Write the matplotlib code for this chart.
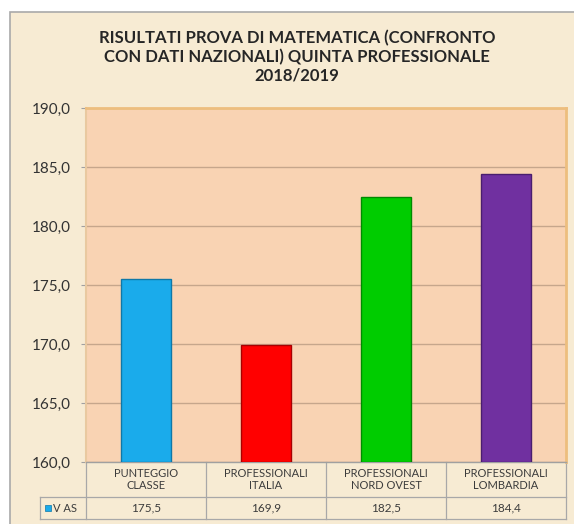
import matplotlib
matplotlib.use("Agg")
import matplotlib.pyplot as plt
import matplotlib.transforms as mtransforms
from matplotlib.patches import Rectangle
from matplotlib.lines import Line2D

# data
categories = ["PUNTEGGIO\nCLASSE", "PROFESSIONALI\nITALIA",
              "PROFESSIONALI\nNORD OVEST", "PROFESSIONALI\nLOMBARDIA"]
values = [175.5, 169.9, 182.5, 184.4]
value_labels = ["175,5", "169,9", "182,5", "184,4"]
series_name = "V AS"
yticks = [160, 165, 170, 175, 180, 185, 190]
ytick_labels = ["160,0", "165,0", "170,0", "175,0", "180,0", "185,0", "190,0"]

bar_colors = ["#1AABEB", "#FF0000", "#00CC00", "#7030A0"]
edge_colors = ["#0F78A8", "#A80000", "#008A00", "#4A1E6E"]

plt.rcParams['font.family'] = ['Lato', 'DejaVu Sans']

W, H = 574, 524
fig = plt.figure(figsize=(W / 100, H / 100), dpi=100, facecolor="white")

# parchment chart area with grey border
fig.patches.append(Rectangle((10 / W, -0.01), 1.0, 1 - 12 / H + 0.01,
                             transform=fig.transFigure, facecolor="#F7EBD3",
                             edgecolor="#A9A9A9", linewidth=1.2, zorder=-10))

# plot area: left 86, right 566, top 108, bottom 462 (pixels)
ax = fig.add_axes([86 / W, 1 - 462 / H, 480 / W, 354 / H])
ax.set_facecolor("#F9D3B3")

x = list(range(len(values)))
ax.bar(x, [v - 160 for v in values], bottom=160, width=0.41,
       color=bar_colors, edgecolor=edge_colors, linewidth=1.0, zorder=3)

ax.set_xlim(-0.5, 3.5)
ax.set_ylim(160, 190)
ax.set_yticks(yticks)
ax.set_yticklabels(ytick_labels, fontsize=11, color="#333333")
ax.set_xticks([])
ax.tick_params(axis="y", length=3.6, color="#A0A0A0", pad=7)
ax.yaxis.grid(True, color="#C6A68C", linewidth=1.0, zorder=1)
ax.set_axisbelow(True)

for s in ["top", "right"]:
    ax.spines[s].set_color("#EDBE7E")
    ax.spines[s].set_linewidth(2.0)
ax.spines["left"].set_color("#E9C9A0")
ax.spines["left"].set_linewidth(1.5)
ax.spines["bottom"].set_color("#A0A0A0")
ax.spines["bottom"].set_linewidth(1.0)

# title
fig.text(297 / W, 1 - 57 / H,
         "RISULTATI PROVA DI MATEMATICA (CONFRONTO\nCON DATI NAZIONALI) QUINTA PROFESSIONALE\n2018/2019",
         ha="center", va="center", fontsize=12, fontweight="bold",
         color="#262626", linespacing=1.2)

# data table under the plot
trans = mtransforms.blended_transform_factory(ax.transData, ax.transAxes)
y_head = -(497 - 462) / 354
y_bot = -(519 - 462) / 354
x_lab = -0.5 - 46 / 120
grid_c = "#A8A8A8"

def tline(xs, ys):
    ax.add_line(Line2D(xs, ys, transform=trans, color=grid_c,
                       linewidth=0.9, clip_on=False))

for i in range(len(values) + 1):
    tline([i - 0.5, i - 0.5], [0, y_bot])
tline([x_lab, x_lab], [y_head, y_bot])
tline([x_lab, 3.5], [y_head, y_head])
tline([x_lab, 3.5], [y_bot, y_bot])

for i, (cat, lab) in enumerate(zip(categories, value_labels)):
    ax.text(i, y_head / 2, cat, transform=trans, ha="center", va="center",
            fontsize=8, color="#3C3C3C", linespacing=1.2)
    ax.text(i, (y_head + y_bot) / 2, lab, transform=trans, ha="center",
            va="center", fontsize=8.5, color="#3C3C3C")

ax.add_patch(Rectangle((x_lab + 0.04, (y_head + y_bot) / 2 - 0.009), 0.055, 0.018,
                       transform=trans, facecolor=bar_colors[0],
                       edgecolor=edge_colors[0], linewidth=0.5, clip_on=False))
ax.text(x_lab + 0.11, (y_head + y_bot) / 2, series_name, transform=trans,
        ha="left", va="center", fontsize=8, color="#3C3C3C")

fig.savefig("out.png", dpi=100, facecolor="white")
